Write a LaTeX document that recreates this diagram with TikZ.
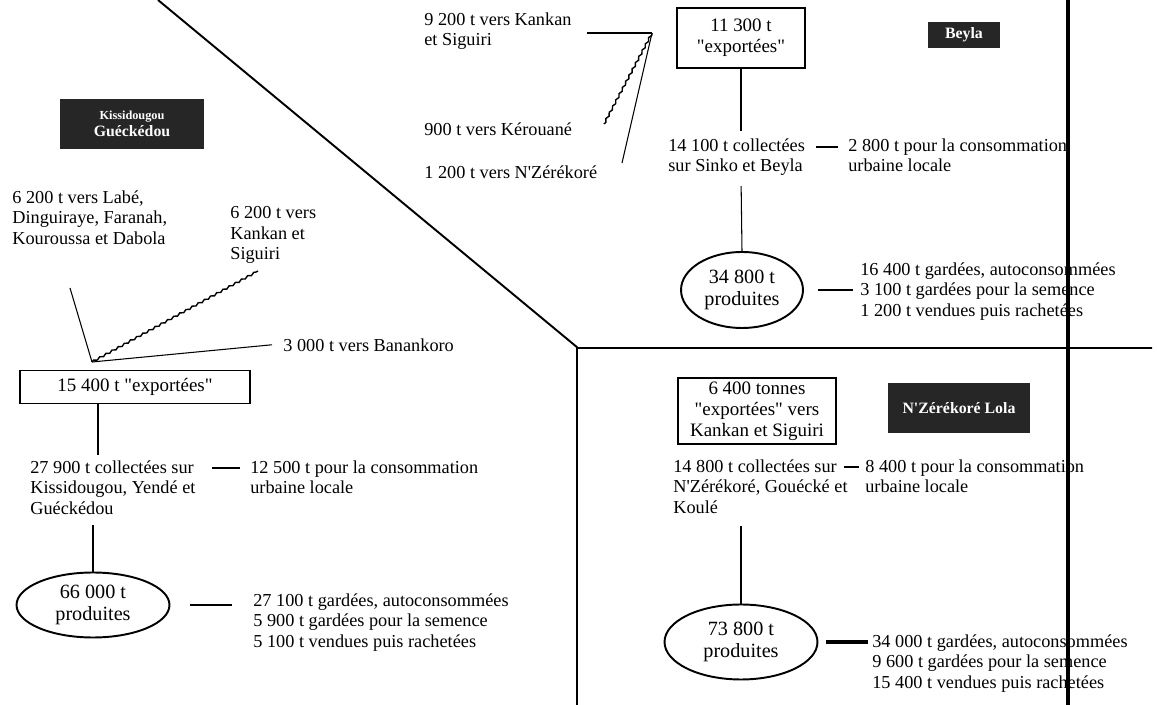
\documentclass[tikz,border=0pt]{standalone}
\usepackage{fontspec}
\setmainfont{Liberation Serif}
\usetikzlibrary{shapes.geometric,decorations.pathmorphing,positioning}
\newcommand{\dq}{\XeTeXglyph\XeTeXcharglyph"22\relax}
\newcommand{\sq}{\XeTeXglyph\XeTeXcharglyph"27\relax}
\tikzset{
  flowtext/.style={anchor=north west,inner sep=0pt,align=left,
    font=\fontsize{10.4}{11.8}\selectfont},
  exportbox/.style={draw,line width=0.8pt,align=center,inner sep=2pt,
    font=\fontsize{10.8}{12}\selectfont},
  prodellipse/.style={draw,ellipse,line width=1.1pt,align=center,inner sep=1pt,
    font=\fontsize{11.5}{12.5}\selectfont},
  zonelabel/.style={fill=black!85,text=white,align=center,inner sep=2pt,
    font=\bfseries\fontsize{9}{10}\selectfont},
  feeder/.style={line width=0.6pt},
  wavyline/.style={line width=0.8pt,decorate,
    decoration={snake,amplitude=0.5pt,segment length=4pt}},
  sectionline/.style={line width=1.1pt}
}
\begin{document}
\begin{tikzpicture}[x=0.02cm,y=-0.02cm]
  \useasboundingbox (0,0) rectangle (1157,705);
  \draw[sectionline] (158,0) -- (578,348) -- (1152,348);
  \draw[sectionline] (577,348) -- (577,705);
  \draw[line width=2pt] (1068,0) -- (1068,705);

  \node[zonelabel,minimum width=1.44cm,minimum height=0.52cm] (beylabel) at (964,35) {Beyla};
  \node[exportbox,minimum width=2.56cm,minimum height=1.2cm] (beyexp) at (741,38)
    {11 300 t\\\dq{}exportées\dq};
  \node[flowtext] (beycoll) at (668,138) {14 100 t collectées\\sur Sinko et Beyla};
  \node[flowtext] (beycons) at (848,138) {2 800 t pour la consommation\\urbaine locale};
  \node[prodellipse,minimum width=2.44cm,minimum height=1.52cm] (beyprod) at (742,290)
    {34 800 t\\produites};
  \node[flowtext] (beyuse) at (860,262)
    {16 400 t gardées, autoconsommées\\3 100 t gardées pour la semence\\1 200 t vendues puis rachetées};
  \draw[feeder,shorten >=0.14cm] (beyexp.south) -- (beyexp.south |- beycoll.north);
  \draw[feeder,shorten <=0.2cm] (beyexp.south |- beycoll.south) -- (beyprod.north);
  \draw[feeder] ([xshift=-0.64cm,yshift=-0.18cm]beycons.north west)
    -- ([xshift=-0.2cm,yshift=-0.18cm]beycons.north west);
  \draw[feeder] ([xshift=0.28cm]beyprod.east) -- ([xshift=-0.14cm]beyprod.east -| beyuse.west);

  \node[flowtext] (kankan1) at (424,12) {9 200 t vers Kankan\\et Siguiri};
  \node[flowtext] (kerouane) at (424,122) {900 t vers Kérouané};
  \node[flowtext] (nzere1) at (424,165) {1 200 t vers N\sq{}Zérékoré};
  \coordinate (beyfan) at (652,33);
  \coordinate (kertip) at (604,124);
  \coordinate (nzetip) at (622,163);
  \draw[feeder,shorten >=0.3cm] (beyfan) -- (beyfan -| kankan1.east);
  \draw[wavyline] (beyfan) -- (kertip);
  \draw[feeder] (beyfan) -- (nzetip);

  \node[zonelabel,minimum width=2.9cm,minimum height=1cm] (kisslabel) at (132,124)
    {\fontsize{7}{8}\selectfont Kissidougou\\Guéckédou};
  \node[flowtext] (labe) at (12,190) {6 200 t vers Labé,\\Dinguiraye, Faranah,\\Kouroussa et Dabola};
  \node[flowtext] (kankan2) at (230,206) {6 200 t vers\\Kankan et\\Siguiri};
  \node[flowtext] (banan) at (283,338) {3 000 t vers Banankoro};
  \coordinate (kissfan) at (92,362);
  \coordinate (labetip) at (70,288);
  \coordinate (kantip) at (258,271);
  \draw[feeder] (kissfan) -- (labetip);
  \draw[wavyline] (kissfan) -- (kantip);
  \draw[feeder] (kissfan) -- ([xshift=-0.22cm]banan.west);
  \node[exportbox,minimum width=4.6cm,minimum height=0.66cm] (kissexp) at (135,387)
    {15 400 t \dq{}exportées\dq};
  \node[flowtext] (kisscoll) at (30,460) {27 900 t collectées sur\\Kissidougou, Yendé et\\Guéckédou};
  \node[flowtext] (kisscons) at (250,460) {12 500 t pour la consommation\\urbaine locale};
  \node[prodellipse,minimum width=3.06cm,minimum height=1.3cm] (kissprod) at (93,605)
    {66 000 t\\produites};
  \node[flowtext] (kissuse) at (253,593)
    {27 100 t gardées, autoconsommées\\5 900 t gardées pour la semence\\5 100 t vendues puis rachetées};
  \draw[feeder,shorten >=0.1cm] ([xshift=-0.74cm]kissexp.south)
    -- ([xshift=-0.74cm]kissexp.south |- kisscoll.north);
  \draw[feeder,shorten <=0.2cm] (kissprod.north |- kisscoll.south) -- (kissprod.north);
  \draw[feeder] ([xshift=-0.76cm,yshift=-0.16cm]kisscons.north west)
    -- ([xshift=-0.2cm,yshift=-0.16cm]kisscons.north west);
  \draw[feeder] ([xshift=0.4cm]kissprod.east) -- ([xshift=-0.42cm]kissprod.east -| kissuse.west);

  \node[exportbox,minimum width=3.16cm,minimum height=1.32cm] (nzeexp) at (757,411)
    {6 400 tonnes\\\dq{}exportées\dq{} vers\\Kankan et Siguiri};
  \node[zonelabel,minimum width=2.84cm,minimum height=1cm] (nzelabel) at (959,408)
    {N\sq{}Zérékoré Lola};
  \node[flowtext] (nzecoll) at (673,459) {14 800 t collectées sur\\N\sq{}Zérékoré, Gouécké et\\Koulé};
  \node[flowtext] (nzecons) at (865,459) {8 400 t pour la consommation\\urbaine locale};
  \node[prodellipse,minimum width=3.06cm,minimum height=1.5cm] (nzeprod) at (741,642)
    {73 800 t\\produites};
  \node[flowtext] (nzeuse) at (872,634)
    {34 000 t gardées, autoconsommées\\9 600 t gardées pour la semence\\15 400 t vendues puis rachetées};
  \draw[feeder,shorten <=0.24cm] (nzeprod.north |- nzecoll.south) -- (nzeprod.north);
  \draw[feeder] ([xshift=-0.42cm,yshift=-0.16cm]nzecons.north west)
    -- ([xshift=-0.12cm,yshift=-0.16cm]nzecons.north west);
  \draw[line width=2pt] ([xshift=0.16cm]nzeprod.east) -- ([xshift=-0.08cm]nzeprod.east -| nzeuse.west);
\end{tikzpicture}
\end{document}
